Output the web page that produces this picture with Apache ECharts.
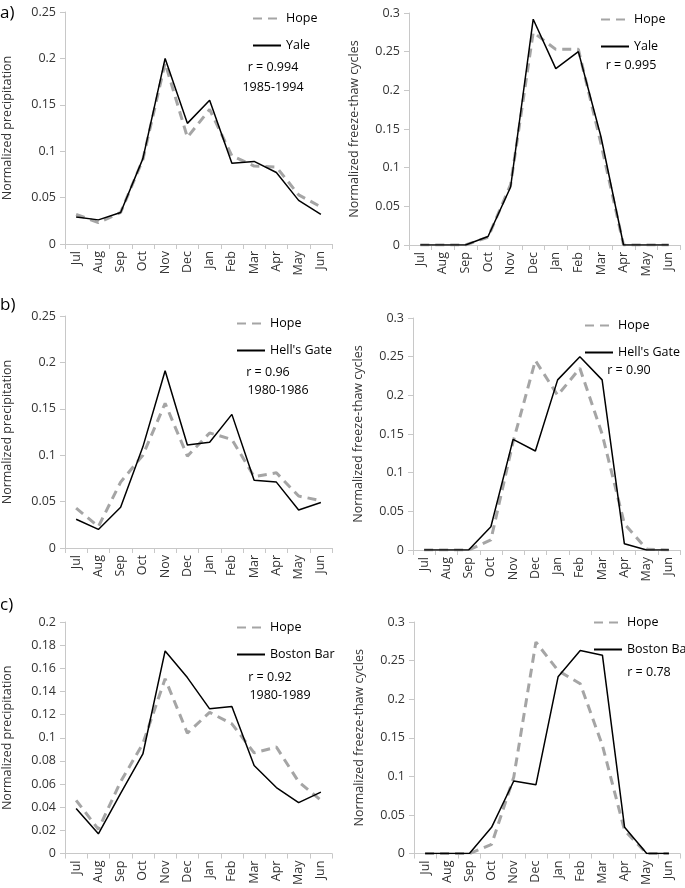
<!DOCTYPE html>
<html><head><meta charset="utf-8">
<script src="https://cdn.jsdelivr.net/npm/echarts@6/dist/echarts.min.js"></script>
<style>html,body{margin:0;padding:0;background:#fff}#c{width:685px;height:888px}</style>
</head><body><div id="c"></div>
<script>
const months = ['Jul','Aug','Sep','Oct','Nov','Dec','Jan','Feb','Mar','Apr','May','Jun'];

// a) Hope vs Yale
const precipHopeA = [0.032,0.023,0.034,0.091,0.195,0.115,0.145,0.095,0.084,0.083,0.053,0.040];
const precipYale  = [0.029,0.026,0.034,0.092,0.200,0.130,0.155,0.087,0.089,0.077,0.047,0.032];
const ftHopeA     = [0,0,0,0.010,0.078,0.275,0.253,0.253,0.131,0,0,0];
const ftYale      = [0,0,0,0.011,0.075,0.292,0.228,0.250,0.140,0,0,0];

// b) Hope vs Hell's Gate
const precipHopeB = [0.043,0.023,0.071,0.100,0.156,0.099,0.124,0.117,0.077,0.081,0.056,0.051];
const precipHell  = [0.031,0.020,0.044,0.109,0.191,0.111,0.114,0.144,0.073,0.071,0.041,0.049];
const ftHopeB     = [0,0,0,0.013,0.140,0.245,0.200,0.235,0.150,0.034,0.001,0];
const ftHell      = [0,0,0,0.030,0.143,0.128,0.220,0.250,0.220,0.008,0,0];

// c) Hope vs Boston Bar
const precipHopeC = [0.046,0.021,0.062,0.095,0.151,0.104,0.122,0.112,0.087,0.092,0.062,0.046];
const precipBoston= [0.039,0.017,0.052,0.086,0.175,0.152,0.125,0.127,0.076,0.057,0.044,0.053];
const ftHopeC     = [0,0,0,0.012,0.099,0.274,0.237,0.220,0.140,0.030,0,0];
const ftBoston    = [0,0,0,0.034,0.094,0.089,0.229,0.263,0.257,0.034,0,0];

const yTicksPrecipAB = {min:0, max:0.25, interval:0.05};
const yTicksPrecipC  = {min:0, max:0.2, interval:0.02};
const yTicksFT       = {min:0, max:0.3, interval:0.05};

const FONT = 'Open Sans';
const TXT = '#333';
const AX = '#c8c8c8';

const panels = [
  {grid:{left:65,top:12,width:267,height:232}, y:yTicksPrecipAB, name:'Normalized precipitation', hope:precipHopeA, other:precipYale, otherName:'Yale',
   legend:{left:247,top:7}, notes:[{x:273,y:67,t:'r = 0.994'},{x:273,y:87,t:'1985-1994'}]},
  {grid:{left:409,top:13,width:271,height:232}, y:yTicksFT, name:'Normalized freeze-thaw cycles', hope:ftHopeA, other:ftYale, otherName:'Yale',
   legend:{left:595,top:8}, notes:[{x:631,y:65,t:'r = 0.995'}]},
  {grid:{left:65,top:316,width:267,height:232}, y:yTicksPrecipAB, name:'Normalized precipitation', hope:precipHopeB, other:precipHell, otherName:"Hell's Gate",
   legend:{left:231,top:312}, notes:[{x:268,y:372,t:'r = 0.96'},{x:278,y:390,t:'1980-1986'}]},
  {grid:{left:413,top:318,width:267,height:232}, y:yTicksFT, name:'Normalized freeze-thaw cycles', hope:ftHopeB, other:ftHell, otherName:"Hell's Gate",
   legend:{left:579,top:314}, notes:[{x:629,y:370,t:'r = 0.90'}]},
  {grid:{left:65,top:622,width:267,height:232}, y:yTicksPrecipC, name:'Normalized precipitation', hope:precipHopeC, other:precipBoston, otherName:'Boston Bar',
   legend:{left:231,top:616}, notes:[{x:270,y:677,t:'r = 0.92'},{x:280,y:695,t:'1980-1989'}]},
  {grid:{left:414,top:622,width:266,height:233}, y:yTicksFT, name:'Normalized freeze-thaw cycles', hope:ftHopeC, other:ftBoston, otherName:'Boston Bar',
   legend:{left:588,top:611}, notes:[{x:649,y:672,t:'r = 0.78'}]}
];

const option = {
  backgroundColor:'#fff', animation:false,
  textStyle:{fontFamily:FONT},
  grid:[], xAxis:[], yAxis:[], series:[], legend:[], graphic:[]
};

panels.forEach((p,i)=>{
  option.grid.push(Object.assign({containLabel:false}, p.grid));
  option.xAxis.push({
    type:'category', gridIndex:i, data:months, boundaryGap:true,
    axisLine:{lineStyle:{color:AX,width:1}},
    axisTick:{show:true, length:5, lineStyle:{color:AX}},
    axisLabel:{rotate:90, fontSize:12.5, color:TXT, margin:7, fontFamily:FONT, interval:0},
    splitLine:{show:false}
  });
  option.yAxis.push({
    type:'value', gridIndex:i, min:p.y.min, max:p.y.max, interval:p.y.interval,
    name:p.name, nameLocation:'middle', nameGap:i%2===0?51:48,
    nameTextStyle:{fontSize:12.5, color:TXT, fontFamily:FONT},
    axisLine:{show:true, lineStyle:{color:AX,width:1}},
    axisTick:{show:true, length:5, lineStyle:{color:AX}},
    axisLabel:{fontSize:12.5, color:TXT, margin:9, fontFamily:FONT},
    splitLine:{show:false}
  });
  option.series.push({
    type:'line', name:'Hope', xAxisIndex:i, yAxisIndex:i, data:p.hope,
    symbol:'none', lineStyle:{color:'#a5a5a5', width:3, type:[9,6]}, itemStyle:{color:'#a5a5a5'}, z:2
  });
  option.series.push({
    type:'line', name:p.otherName, xAxisIndex:i, yAxisIndex:i, data:p.other,
    symbol:'none', lineStyle:{color:'#000', width:1.5, type:'solid'}, itemStyle:{color:'#000'}, z:3
  });
  option.legend.push({
    data:['Hope', p.otherName], orient:'vertical', left:p.legend.left, top:p.legend.top,
    itemWidth:28, itemHeight:12, itemGap:14,
    itemStyle:{opacity:0},
    textStyle:{fontSize:12.5, color:'#000', fontFamily:FONT}, selectedMode:false
  });
  p.notes.forEach(n=>{
    option.graphic.push({type:'text', x:n.x, y:n.y, style:{text:n.t, fill:'#000', font:'12.5px "'+FONT+'"', align:'center', verticalAlign:'middle'}});
  });
});

[['a)',0,13],['b)',0,305],['c)',0,605]].forEach(l=>{
  option.graphic.push({type:'text', x:l[1], y:l[2], style:{text:l[0], fill:'#000', font:'17px "'+FONT+'"', verticalAlign:'middle'}});
});

const chart = echarts.init(document.getElementById('c'), null, {renderer:'canvas'});
chart.setOption(option);
</script></body></html>
